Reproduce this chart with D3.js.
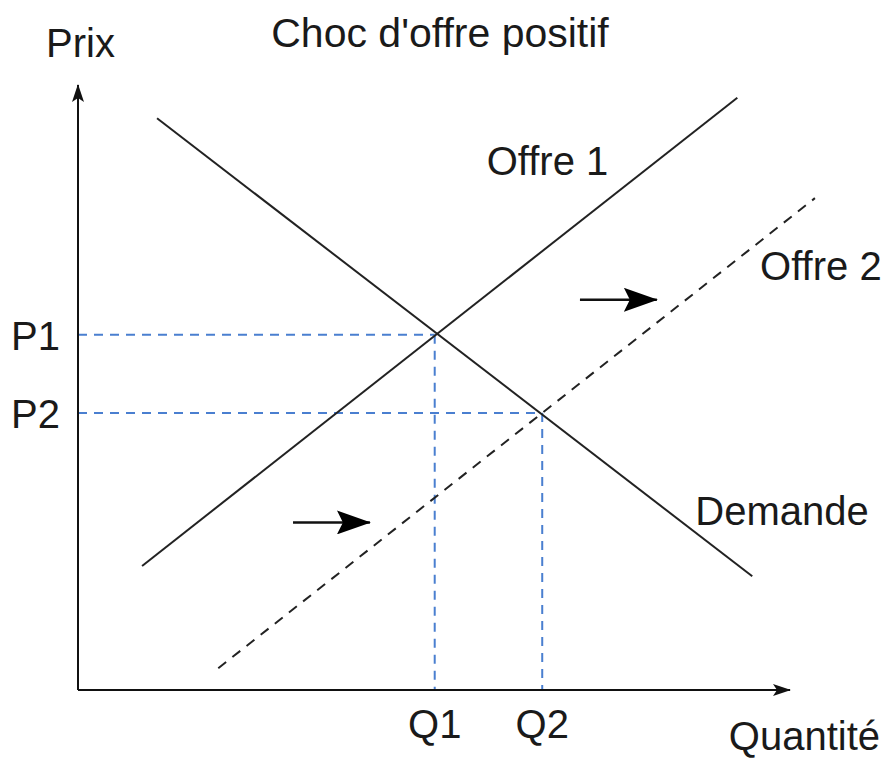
<!DOCTYPE html>
<html>
<head>
<meta charset="utf-8">
<script src="https://cdn.jsdelivr.net/npm/d3@7"></script>
</head>
<body style="margin: 0; background: #fff;">
<div id="chart"></div>
<script>
    'use strict';

    // curves in (quantité, prix) units
    var offre1 = [[0.90, 2.05], [9.26, 9.79]];
    var offre2 = [[1.97, 0.36], [10.35, 8.13]];
    var demande = [[1.11, 9.45], [9.47, 1.88]];

    // equilibria
    var equilibres = [
        { q: 5.01, p: 5.87, qLabel: "Q1", pLabel: "P1" },
        { q: 6.52, p: 4.58, qLabel: "Q2", pLabel: "P2" }
    ];

    // shift arrows [from, to]
    var fleches = [
        [[7.05, 6.45], [8.13, 6.45]],
        [[3.02, 2.77], [4.10, 2.77]]
    ];

    var labels = [
        { text: "Offre 1", q: 5.74, p: 8.52 },
        { text: "Offre 2", q: 9.58, p: 6.78 },
        { text: "Demande", q: 8.67, p: 2.73 }
    ];

    var width = 885, height = 758;
    var x0 = 78, x1 = 790, y0 = 690, y1 = 85;

    var x = d3.scaleLinear().domain([0, 10]).range([x0, x1]);
    var y = d3.scaleLinear().domain([0, 10]).range([y0, y1]);

    var svg = d3.select("#chart").append("svg")
        .attr("width", width)
        .attr("height", height)
        .style("font-family", "'Liberation Sans', Arial, sans-serif");

    var defs = svg.append("defs");
    defs.append("marker")
        .attr("id", "axisHead")
        .attr("viewBox", "0 0 18 12")
        .attr("refX", 17).attr("refY", 6)
        .attr("markerWidth", 18).attr("markerHeight", 12)
        .attr("markerUnits", "userSpaceOnUse")
        .attr("orient", "auto")
        .append("path").attr("d", "M0,0 L18,6 L0,12 L4,6 Z").attr("fill", "#111");
    defs.append("marker")
        .attr("id", "bigHead")
        .attr("viewBox", "0 0 34 24")
        .attr("refX", 33).attr("refY", 12)
        .attr("markerWidth", 34).attr("markerHeight", 24)
        .attr("markerUnits", "userSpaceOnUse")
        .attr("orient", "auto")
        .append("path").attr("d", "M0,0 L34,12 L0,24 L6,12 Z").attr("fill", "#000");

    var line = d3.line().x(d => x(d[0])).y(d => y(d[1]));

    // guide lines
    var guides = svg.append("g")
        .attr("stroke", "#4a7fd0")
        .attr("stroke-width", 2)
        .attr("stroke-dasharray", "9,7");
    equilibres.forEach(function(e) {
        guides.append("path").attr("d", line([[0, e.p], [e.q, e.p]]));
        guides.append("path").attr("d", line([[e.q, e.p], [e.q, 0]]));
    });

    // axes
    svg.append("path").attr("d", line([[0, 0], [0, 10]]))
        .attr("stroke", "#111").attr("stroke-width", 2).attr("fill", "none")
        .attr("marker-end", "url(#axisHead)");
    svg.append("path").attr("d", line([[0, 0], [10, 0]]))
        .attr("stroke", "#111").attr("stroke-width", 2).attr("fill", "none")
        .attr("marker-end", "url(#axisHead)");

    // curves
    svg.append("path").attr("d", line(offre1))
        .attr("stroke", "#222").attr("stroke-width", 2).attr("fill", "none");
    svg.append("path").attr("d", line(demande))
        .attr("stroke", "#222").attr("stroke-width", 2).attr("fill", "none");
    svg.append("path").attr("d", line(offre2))
        .attr("stroke", "#222").attr("stroke-width", 2).attr("fill", "none")
        .attr("stroke-dasharray", "10,8");

    fleches.forEach(function(f) {
        svg.append("path").attr("d", line(f))
            .attr("stroke", "#111").attr("stroke-width", 2.5).attr("fill", "none")
            .attr("marker-end", "url(#bigHead)");
    });

    var fontSize = 40;
    function txt(t, px, py, anchor, size) {
        svg.append("text")
            .attr("x", px).attr("y", py)
            .attr("text-anchor", anchor || "start")
            .attr("font-size", size || fontSize)
            .attr("fill", "#1a1a1a")
            .text(t);
    }

    txt("Choc d'offre positif", 440, 47, "middle", 41);
    txt("Prix", 46, 57);
    txt("Quantité", 880, 750, "end");

    labels.forEach(function(l) { txt(l.text, x(l.q), y(l.p), "start"); });

    equilibres.forEach(function(e) {
        txt(e.pLabel, 11, y(e.p) + 15);
        txt(e.qLabel, x(e.q), 738, "middle");
    });
</script>
</body>
</html>
